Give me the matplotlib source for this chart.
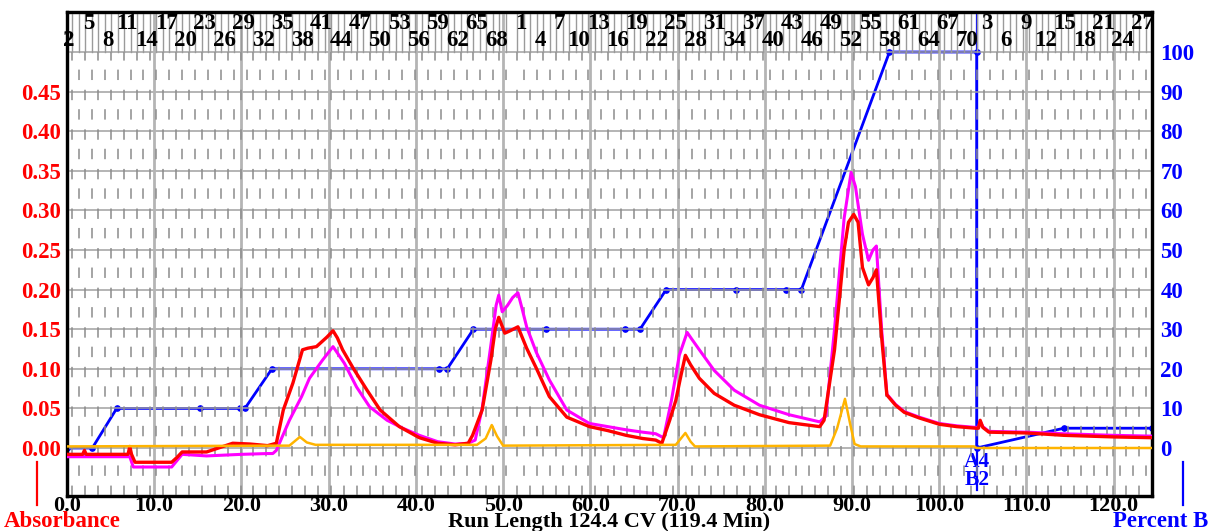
import numpy as np
import matplotlib
matplotlib.use("Agg")
import matplotlib.pyplot as plt

# absorbance traces (CV, AU)
red_x = [0, 1.8, 2.0, 2.2, 7.0, 7.2, 7.4, 7.8, 12.0, 12.6, 13.2, 16.0, 19.0, 21.0, 23.0, 24.0,
         24.8, 25.9, 27.0, 27.6, 28.6, 29.8, 30.5, 31.0, 31.6, 32.8, 34.4, 35.9, 38.1, 40.4,
         42.5, 44.5, 46.0, 46.5, 47.6, 48.6, 49.1, 49.5, 50.2, 50.8, 51.7, 52.7, 53.8, 55.3,
         57.3, 59.9, 62.0, 64.1, 66.0, 67.5, 68.2, 69.1, 69.8, 70.4, 70.9, 71.5, 72.5, 74.2,
         76.5, 79.4, 82.8, 86.3, 86.8, 88.0, 89.1, 89.6, 90.2, 90.7, 91.2, 91.9, 92.4, 92.8,
         93.4, 94.0, 95.0, 96.0, 97.7, 100.0, 102.0, 104.2, 104.5, 104.7, 105.0, 105.7, 110.0,
         114.3, 120.0, 124.4]
red_y = [-0.008, -0.008, -0.003, -0.008, -0.008, 0.002, -0.008, -0.018, -0.018, -0.012, -0.005,
         -0.005, 0.006, 0.005, 0.003, 0.006, 0.048, 0.082, 0.124, 0.126, 0.128, 0.140, 0.148,
         0.139, 0.124, 0.101, 0.073, 0.048, 0.027, 0.013, 0.006, 0.004, 0.006, 0.016, 0.048,
         0.111, 0.150, 0.165, 0.145, 0.148, 0.153, 0.126, 0.101, 0.065, 0.039, 0.027, 0.022,
         0.016, 0.012, 0.010, 0.006, 0.035, 0.060, 0.092, 0.117, 0.105, 0.088, 0.069, 0.054,
         0.042, 0.032, 0.027, 0.035, 0.124, 0.250, 0.285, 0.295, 0.285, 0.228, 0.206, 0.215,
         0.225, 0.140, 0.067, 0.054, 0.045, 0.038, 0.030, 0.027, 0.025, 0.025, 0.035, 0.026,
         0.020, 0.019, 0.016, 0.014, 0.013]

mag_x = [0, 7.2, 7.6, 12.0, 12.6, 13.2, 16.0, 20.0, 23.0, 23.6, 24.0, 25.5, 26.9, 27.8, 29.3,
         30.5, 31.0, 31.8, 33.2, 34.7, 36.7, 38.5, 40.4, 42.5, 44.5, 46.0, 46.8, 47.6, 48.6,
         49.2, 49.5, 49.9, 50.5, 51.1, 51.7, 52.2, 52.7, 53.8, 55.3, 57.3, 59.9, 62.0, 64.1,
         66.0, 67.5, 68.4, 69.3, 70.2, 71.1, 71.6, 72.5, 74.2, 76.5, 79.4, 82.8, 86.3, 87.0,
         88.0, 89.1, 89.9, 90.4, 91.2, 91.9, 92.4, 92.8, 93.4, 94.0, 95.0, 96.0, 97.7, 100.0,
         102.0, 104.2, 104.5, 104.7, 105.0, 105.7, 110.0, 114.3, 120.0, 124.4]
mag_y = [-0.011, -0.011, -0.024, -0.024, -0.016, -0.008, -0.010, -0.008, -0.007, -0.007, -0.003,
         0.035, 0.065, 0.088, 0.111, 0.128, 0.120, 0.107, 0.077, 0.052, 0.035, 0.025, 0.016,
         0.008, 0.005, 0.006, 0.010, 0.050, 0.130, 0.180, 0.193, 0.172, 0.180, 0.190, 0.196,
         0.175, 0.153, 0.121, 0.086, 0.048, 0.031, 0.027, 0.023, 0.020, 0.018, 0.013, 0.060,
         0.117, 0.146, 0.138, 0.124, 0.098, 0.073, 0.054, 0.042, 0.033, 0.040, 0.150, 0.290,
         0.348, 0.330, 0.270, 0.237, 0.250, 0.255, 0.150, 0.068, 0.055, 0.046, 0.039, 0.031,
         0.028, 0.026, 0.026, 0.034, 0.027, 0.021, 0.020, 0.018, 0.016, 0.015]

yel_x = [0, 25.5, 26.7, 27.5, 28.5, 47.0, 48.0, 48.7, 49.3, 50.0, 69.8, 70.9, 71.5, 72.0,
         87.5, 88.3, 89.2, 89.8, 90.3, 91.0, 104.0, 104.3, 124.4]
yel_y = [0.002, 0.003, 0.014, 0.007, 0.004, 0.004, 0.012, 0.029, 0.015, 0.003, 0.004, 0.019,
         0.008, 0.002, 0.003, 0.025, 0.062, 0.030, 0.005, 0.002, 0.002, 0.0, 0.0]

# gradient, percent B
grad_x = [0, 2.9, 5.7, 15.2, 19.8, 20.4, 23.5, 42.7, 43.6, 46.6, 54.9, 64.0, 65.7, 68.7,
          76.7, 82.4, 84.2, 94.3, 104.3, 104.3, 114.3, 124.4]
grad_y = [0, 0, 10, 10, 10, 10, 20, 20, 20, 30, 30, 30, 30, 40, 40, 40, 40, 100, 100, 0, 5, 5]

# fraction racks
frac_width = 0.742
rack_first = [-0.51, 52.0, 104.0]
rack_size = [70, 70, 29]
rack_labels = [list(range(2, 71, 3)), list(range(1, 71, 3)), list(range(3, 28, 3))]

x_max = 124.4
valve_x = 104.3

plt.rcParams['font.family'] = ['Liberation Serif', 'DejaVu Serif']
plt.rcParams['font.weight'] = 'bold'
plt.rcParams['lines.scale_dashes'] = False

fs = 16.5
fig = plt.figure(figsize=(12.08, 5.31), dpi=100)
ax = fig.add_axes([67 / 1208, 1 - 496 / 531, (1152 - 67) / 1208, (496 - 12) / 531])
ax2 = ax.twinx()

ylo, yhi = -0.0606, 0.5505
ax.set_xlim(0, x_max)
ax.set_ylim(ylo, yhi)
ax2.set_ylim(ylo * 200, yhi * 200)

# grid
for v in np.arange(0, 0.51, 0.05):
    ax.axhline(v, color='#a0a0a0', lw=1.1, zorder=1)
for v in np.arange(10, x_max, 10):
    ax.axvline(v, color='#b4b4b4', lw=2.0, zorder=1)

# fraction boundaries
edges = []
for first, n in zip(rack_first, rack_size):
    for k in range(n):
        e = first + k * frac_width - frac_width / 2
        if 0 < e < x_max:
            edges.append(e)
for i, e in enumerate(edges):
    off = 0 if i % 2 == 0 else 14
    ax.plot([e, e], [ylo, 0.5], color='#8c8c8c', lw=1.1,
            linestyle=(off, (7.5, 21)), zorder=1)
    ax.plot([e, e], [0.5, yhi], color='#9a9a9a', lw=1.0, zorder=1)

i = 0
for first, labs in zip(rack_first, rack_labels):
    for n in labs:
        xc = first + (n - 1) * frac_width
        yl = 0.536 if i % 2 == 1 else 0.514
        ax.text(xc, yl, str(n), ha='center', va='center', fontsize=fs,
                fontweight='bold', color='black', zorder=3)
        i += 1

# traces
ax.plot(mag_x, mag_y, color='#ff00ff', lw=2.2, zorder=4)
ax.plot(red_x, red_y, color='#ff0000', lw=2.4, zorder=5)
ax.plot(yel_x, yel_y, color='#ffb400', lw=1.8, zorder=6)

ax2.plot(grad_x, grad_y, color='#0000ff', lw=2.0, marker='o', ms=3.8, zorder=3)
ax2.plot([valve_x, valve_x], [-10.5, 110], color='#0000ff', lw=1.6, zorder=3)
ax2.text(valve_x, -3.5, 'A4', ha='center', va='center', fontsize=fs - 1, color='#0000ff',
         fontweight='bold')
ax2.text(valve_x, -8.0, 'B2', ha='center', va='center', fontsize=fs - 1, color='#0000ff',
         fontweight='bold')

ax.set_zorder(ax2.get_zorder() + 1)
ax.patch.set_visible(False)

# ticks
ax.set_xticks(np.arange(0, 121, 10))
ax.set_xticklabels([f'{v:.1f}' for v in np.arange(0, 121, 10)])
ax.set_yticks(np.arange(0, 0.46, 0.05))
ax.set_yticklabels([f'{v:.2f}' for v in np.arange(0, 0.46, 0.05)])
ax2.set_yticks(np.arange(0, 101, 10))
ax.tick_params(axis='x', length=0, pad=0, labelsize=fs - 0.5, labelcolor='black')
ax.tick_params(axis='y', length=0, pad=4, labelsize=fs, labelcolor='#ff0000')
ax2.tick_params(axis='y', length=0, pad=6, labelsize=fs, labelcolor='#0000ff')
for lab in ax.get_xticklabels() + ax.get_yticklabels() + ax2.get_yticklabels():
    lab.set_fontweight('bold')

for a in (ax, ax2):
    for s in a.spines.values():
        s.set_linewidth(2.3)
        s.set_color('black')

fig.text(609 / 1208, 1 - 527 / 531, 'Run Length 124.4 CV (119.4 Min)', ha='center',
         va='baseline', fontsize=fs - 0.5, fontweight='bold', color='black')
fig.text(62 / 1208, 1 - 527 / 531, 'Absorbance', ha='center', va='baseline', fontsize=fs,
         fontweight='bold', color='#ff0000')
fig.text(1161 / 1208, 1 - 527 / 531, 'Percent B', ha='center', va='baseline', fontsize=fs,
         fontweight='bold', color='#0000ff')
fig.add_artist(plt.Line2D([37 / 1208, 37 / 1208], [1 - 505 / 531, 1 - 462 / 531],
                          color='#ff0000', lw=1.6))
fig.add_artist(plt.Line2D([1183 / 1208, 1183 / 1208], [1 - 505 / 531, 1 - 462 / 531],
                          color='#0000ff', lw=1.6))

fig.savefig('out.png', dpi=100)
